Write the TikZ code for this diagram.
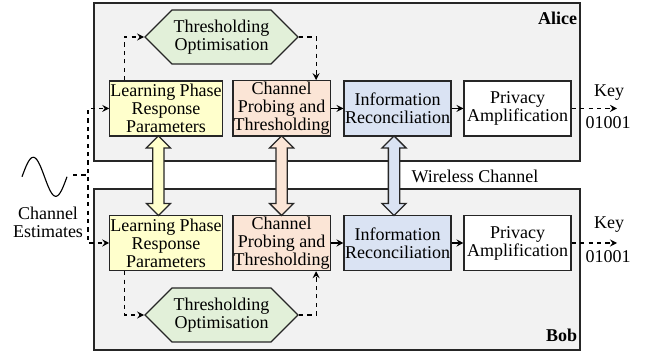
\documentclass[tikz,border=0pt]{standalone}
\usepackage{fontspec}
\setmainfont{Liberation Serif}
\usepackage{tikz}
\usetikzlibrary{arrows.meta, positioning, calc, shapes.symbols, shapes.arrows}
\usepackage{xcolor}
\newcommand{\diagfont}{\rmfamily\fontsize{12.8}{12.8}\selectfont}
\definecolor{lrnyel}{HTML}{FFFFCC}
\definecolor{prborg}{HTML}{FBE5D6}
\definecolor{recblu}{HTML}{DAE3F3}
\definecolor{optgrn}{HTML}{E2F0D9}
\definecolor{frmgry}{HTML}{F2F2F2}
\tikzset{
  myarr/.style   = {-{Stealth[length=5pt, width=5pt, inset=1.8pt]}, line width=0.8pt},
  dasharr/.style = {myarr, dashed},
  %% Box presets
  blkbox/.style = {draw=black!85, line width=0.9pt, align=center, inner xsep=0.3pt, inner ysep=1pt, minimum height=1.375cm},
  lbox/.style   = {blkbox, fill=lrnyel, minimum width=2.8cm},
  pbox/.style   = {blkbox, fill=prborg, minimum width=2.43cm},
  rbox/.style   = {blkbox, fill=recblu, minimum width=2.675cm},
  abox/.style   = {blkbox, fill=white,  minimum width=2.675cm},
  obox/.style   = {signal, signal to=west and east, signal pointer angle=90,
                   draw=black!85, line width=0.9pt, fill=optgrn, align=center,
                   minimum width=3.825cm, minimum height=1.35cm, inner sep=1pt},
  devbox/.style = {draw=black!85, line width=0.9pt, fill=frmgry, minimum width=12.15cm},
  dblarr/.style = {double arrow, draw=black!85, line width=0.9pt, rotate=90,
                   minimum height=1.99cm, inner xsep=0pt, inner ysep=0.125cm,
                   text height=0pt, text depth=0pt,
                   double arrow head extend=0.16cm},
}

\begin{document}
\begin{tikzpicture}[line width=0.8pt, every node/.style={font=\diagfont}]
\useasboundingbox (0,0) rectangle (16.2,8.9);

%% ---- Device frames ----
\node[devbox, minimum height=3.95cm]  (alicebox) at (8.425, 6.85)   {};
\node[devbox, minimum height=4.025cm] (bobbox)   at (8.425, 2.1625) {};
\node[font=\diagfont\bfseries, anchor=north east, inner sep=0pt] (alicelbl)
  at ($(alicebox.north east)+(-0.075,-0.225)$) {Alice};
\node[font=\diagfont\bfseries, anchor=south east, inner sep=0pt] (boblbl)
  at ($(bobbox.south east)+(-0.075,0.2)$) {Bob};

%% ---- Alice chain ----
\node[lbox] (learnA) at (4.15, 6.19)  {Learning Phase\\Response\\Parameters};
\node[pbox] (probeA) at (7.04, 6.19)  {Channel\\Probing and\\Thresholding};
\node[rbox] (infoA)  at (9.94, 6.19)  {Information\\Reconciliation};
\node[abox] (privA)  at (12.94, 6.19) {Privacy\\Amplification};
\node[obox] (optA)   at (5.5375, 7.975) {Thresholding\\Optimisation};

\draw[myarr] (probeA) -- (infoA);
\draw[myarr] (infoA) -- (privA);
\draw[dasharr] ($(learnA.north west)+(0.375,0)$) |- (optA.west);
\draw[dasharr] (optA.east) -| ($(probeA.north)+(0.8625,0)$);

\coordinate (keyA) at (15.425, 6.19);
\draw[dasharr] (privA) -- (keyA);
\node (keytA) at ($(keyA)+(-0.2,0.4)$)   {Key};
\node (bitsA) at ($(keyA)+(-0.22,-0.36)$) {01001};

%% ---- Bob chain ----
\node[lbox] (learnB) at (4.15, 2.825)  {Learning Phase\\Response\\Parameters};
\node[pbox] (probeB) at (7.04, 2.825)  {Channel\\Probing and\\Thresholding};
\node[rbox] (infoB)  at (9.94, 2.825)  {Information\\Reconciliation};
\node[abox] (privB)  at (12.94, 2.825) {Privacy\\Amplification};
\node[obox] (optB)   at (5.5375, 1.025) {Thresholding\\Optimisation};

\draw[myarr] (probeB) -- (infoB);
\draw[myarr] (infoB) -- (privB);
\draw[dasharr] ($(learnB.south west)+(0.375,0)$) |- (optB.west);
\draw[dasharr] (optB.east) -| ($(probeB.south)+(0.8625,0)$);

\coordinate (keyB) at (15.425, 2.825);
\draw[dasharr] (privB) -- (keyB);
\node (keytB) at ($(keyB)+(-0.2,0.45)$)   {Key};
\node (bitsB) at ($(keyB)+(-0.22,-0.35)$) {01001};

%% ---- Links between Alice and Bob ----
\node[dblarr, fill=lrnyel] (lrnlink) at ($(learnA.south)!0.5!(learnB.north)+(-0.19,0)$) {};
\node[dblarr, fill=prborg] (prblink) at ($(probeA.south)!0.5!(probeB.north)$) {};
\node[dblarr, fill=recblu] (reclink) at ($(infoA.south)!0.5!(infoB.north)+(-0.09,0)$) {};
\node (wireless) at (11.875, 4.5) {Wireless Channel};

%% ---- Channel estimates ----
\draw[line width=0.8pt] plot[domain=0:360, samples=60, smooth]
  ({0.55+\x/360*1.125}, {4.48+0.4875*sin(\x)});
\coordinate (waveout) at (1.825, 4.525);
\node[align=center] (estlbl) at (1.2, 3.3375) {Channel\\Estimates};
\draw[dasharr] (waveout) -- ++(0.375,0) |- (learnA.west);
\draw[dasharr] (waveout) -- ++(0.375,0) |- (learnB.west);

\end{tikzpicture}
\end{document}
